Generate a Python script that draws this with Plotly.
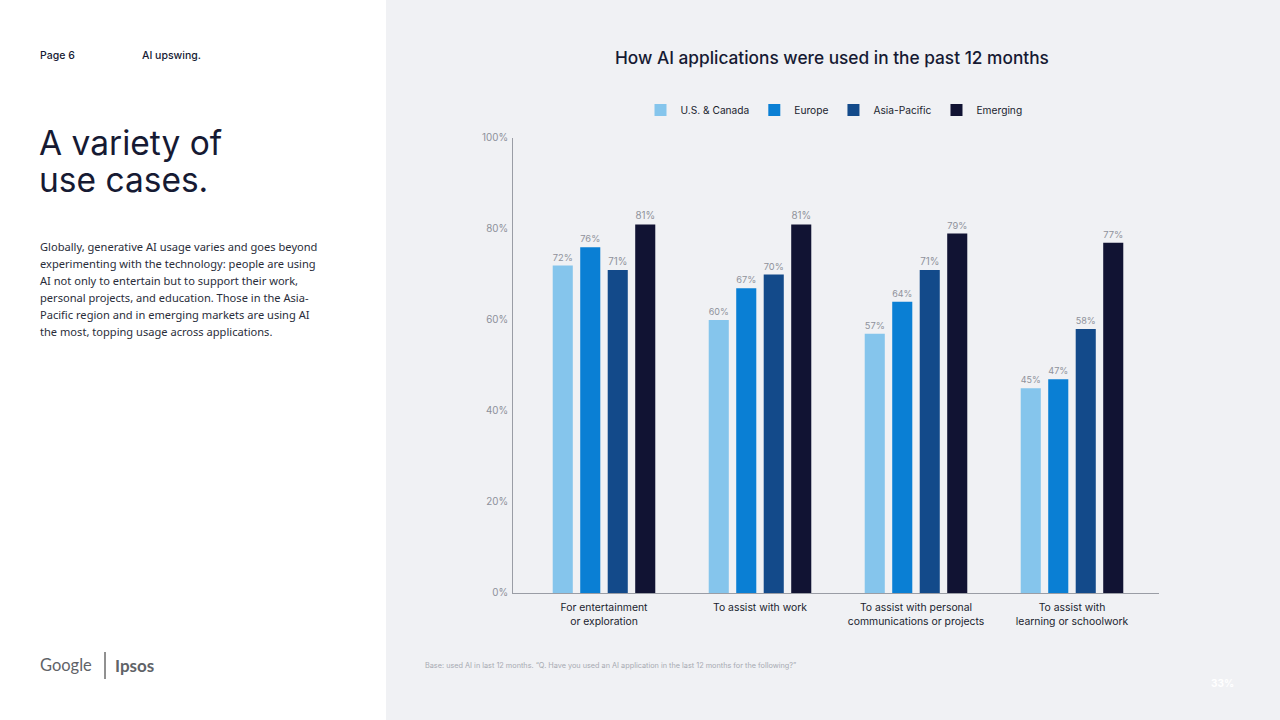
import plotly.graph_objects as go

categories = ["For entertainment<br>or exploration", "To assist with work",
              "To assist with personal<br>communications or projects",
              "To assist with<br>learning or schoolwork"]
series_names = ["U.S. & Canada", "Europe", "Asia-Pacific", "Emerging"]
us_canada = [72, 60, 57, 45]
europe = [76, 67, 64, 47]
asia_pacific = [71, 70, 71, 58]
emerging = [81, 81, 79, 77]
y_ticks = [0, 20, 40, 60, 80, 100]

colors = ["#85c5ec", "#0a7fd4", "#134a8a", "#111333"]
values = [us_canada, europe, asia_pacific, emerging]

W, H = 1280, 720
L, R, T, B = 513, 1159, 138, 593

def px(x):
    return (x - L) / (R - L)

def py(y):
    return (B - y) / (B - T)

fig = go.Figure()
for name, vals, col in zip(series_names, values, colors):
    fig.add_trace(go.Bar(
        x=list(range(len(categories))), y=vals, name=name,
        marker=dict(color=col, line=dict(width=0)),
        text=[f"{v}%" for v in vals], textposition="outside",
        textfont=dict(family="Inter", size=9.8, color="#8f929b"),
        cliponaxis=False,
    ))

GREY = "#f0f1f4"
fig.update_layout(
    width=W, height=H,
    margin=dict(l=L, r=W - R, t=T, b=H - B, pad=0),
    paper_bgcolor=GREY, plot_bgcolor="rgba(0,0,0,0)",
    barmode="group", bargap=0.295, bargroupgap=0.27,
    showlegend=True,
    legend=dict(orientation="h", x=px(834), xanchor="center", y=py(110), yanchor="middle",
                font=dict(family="Inter", size=10.2, color="#1a1d2e"),
                itemwidth=30, traceorder="normal", bgcolor="rgba(0,0,0,0)"),
    xaxis=dict(range=[(L - 604) / 156, (R - 604) / 156], tickmode="array",
               tickvals=list(range(len(categories))), ticktext=categories,
               showline=True, linecolor="#9a9da5", linewidth=1, showgrid=False,
               zeroline=False, ticks="", ticklen=0, ticklabelstandoff=5,
               tickfont=dict(family="Inter", size=10.4, color="#1a1d2e")),
    yaxis=dict(range=[0, 100], tickmode="array", tickvals=y_ticks,
               ticktext=[f"{v}%" for v in y_ticks],
               showline=True, linecolor="#9a9da5", linewidth=1, showgrid=False,
               zeroline=False, ticks="outside", ticklen=2, tickcolor="rgba(0,0,0,0)",
               tickfont=dict(family="Inter", size=9.8, color="#8d909a")),
    font=dict(family="Inter"),
)

shapes = [
    dict(type="rect", xref="paper", yref="paper", x0=px(0), x1=px(386), y0=py(0), y1=py(720),
         fillcolor="#ffffff", line=dict(width=0), layer="below"),
    dict(type="line", xref="paper", yref="paper", x0=px(105), x1=px(105), y0=py(652), y1=py(679),
         line=dict(color="#222222", width=1)),
]
fig.update_layout(shapes=shapes)

def ann(text, x, y, size, color, family="Inter", xanchor="left", yanchor="middle", weight=None, align="left"):
    f = dict(family=family, size=size, color=color)
    if weight:
        f["weight"] = weight
    fig.add_annotation(text=text, x=px(x), y=py(y), xref="paper", yref="paper",
                       showarrow=False, xanchor=xanchor, yanchor=yanchor, align=align, font=f)

ann("How AI applications were used in the past 12 months", 832, 58, 17.3, "#161a33", xanchor="center", weight=500)
ann("Page 6", 38, 56, 10.5, "#161a33", weight=500)
ann("AI upswing.", 140, 56, 10.5, "#161a33", weight=500)
ann("A variety of", 37, 143, 33.5, "#161a33", weight=400)
ann("use cases.", 37, 180, 33.5, "#161a33", weight=400)
body_lines = ["Globally, generative AI usage varies and goes beyond",
              "experimenting with the technology: people are using",
              "AI not only to entertain but to support their work,",
              "personal projects, and education. Those in the Asia-",
              "Pacific region and in emerging markets are using AI",
              "the most, topping usage across applications."]
for i, line in enumerate(body_lines):
    ann(line, 38, 246 + 17 * i, 11.1, "#2a2d3a", family="Noto Sans")
ann("Google", 38, 665, 16.5, "#5f6368", family="Lato")
ann("Ipsos", 113, 665, 17, "#5f6368", family="Lato", weight=700)
ann("Base: used AI in last 12 months. \u201cQ. Have you used an AI application in the last 12 months for the following?\u201d",
    423, 665, 7.3, "#a7aab2")
ann("33%", 1222, 683, 10, "#ffffff", xanchor="center", weight=700)

fig.write_html("out.html")
